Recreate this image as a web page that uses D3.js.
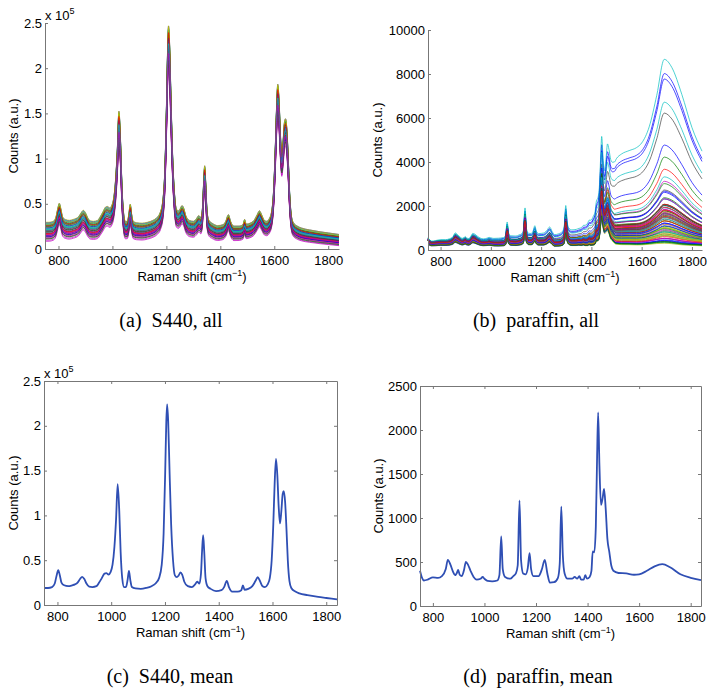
<!DOCTYPE html>
<html>
<head>
<meta charset="utf-8">
<script src="https://cdn.jsdelivr.net/npm/d3@7"></script>
<style>
  body { margin: 0; background: #fff; }
  svg { display: block; }
  .tick text { font-family: 'Liberation Sans', Arial, sans-serif; font-size: 13px; fill: #000; }
  .axis-title { font-family: 'Liberation Sans', Arial, sans-serif; font-size: 13px; fill: #000; }
  .caption { font-family: 'Liberation Serif', 'Times New Roman', serif; font-size: 20px; fill: #000; white-space: pre; }
</style>
</head>
<body>
<svg id="figure" width="714" height="690"></svg>
<script>
// ---- data ----
const shiftTicks = [800, 1000, 1200, 1400, 1600, 1800];
const s440Ticks = [0, 0.5, 1, 1.5, 2, 2.5];            // x 10^5
const paraffinAllTicks = [0, 2000, 4000, 6000, 8000, 10000];
const paraffinMeanTicks = [0, 500, 1000, 1500, 2000, 2500];

// S440 mean spectrum (counts x 10^5)
const s440Shift = [750, 765, 780, 790, 797, 803, 809, 815, 825, 840, 855, 865, 875, 884, 892, 900, 908, 918, 930, 945,
  955, 965, 975, 982, 990, 998, 1005, 1012, 1018, 1024, 1030, 1035, 1041, 1048, 1055, 1061, 1066, 1071, 1077, 1090,
  1110, 1130, 1150, 1165, 1178, 1188, 1195, 1201, 1205, 1208, 1212, 1217, 1223, 1230, 1237, 1244, 1251, 1258, 1264, 1272,
  1285, 1300, 1312, 1320, 1328, 1334, 1338, 1342, 1346, 1351, 1358, 1370, 1390, 1410, 1420, 1430, 1438, 1450, 1470, 1484,
  1490, 1496, 1510, 1525, 1537, 1545, 1553, 1563, 1572, 1582, 1590, 1597, 1603, 1608, 1613, 1618, 1623, 1628, 1633, 1638,
  1642, 1647, 1652, 1657, 1663, 1670, 1685, 1700, 1730, 1770, 1800, 1840];
const s440Mean = [0.19, 0.19, 0.2, 0.24, 0.33, 0.39, 0.33, 0.25, 0.22, 0.21, 0.22, 0.23, 0.25, 0.29, 0.315, 0.29, 0.24, 0.205, 0.2, 0.21,
  0.25, 0.3, 0.35, 0.355, 0.34, 0.37, 0.45, 0.65, 0.95, 1.35, 1.05, 0.6, 0.3, 0.2, 0.2, 0.28, 0.38, 0.28, 0.2, 0.185,
  0.18, 0.19, 0.21, 0.24, 0.3, 0.45, 0.8, 1.5, 2.05, 2.24, 2.05, 1.5, 0.9, 0.5, 0.33, 0.31, 0.33, 0.365, 0.34, 0.26,
  0.21, 0.2, 0.23, 0.26, 0.24, 0.35, 0.6, 0.78, 0.6, 0.3, 0.21, 0.18, 0.155, 0.165, 0.2, 0.27, 0.2, 0.15, 0.15, 0.165,
  0.22, 0.17, 0.18, 0.21, 0.27, 0.31, 0.27, 0.21, 0.2, 0.23, 0.3, 0.5, 0.9, 1.35, 1.63, 1.45, 1.1, 0.91, 1.05, 1.24,
  1.27, 1.15, 0.85, 0.5, 0.27, 0.19, 0.15, 0.13, 0.11, 0.09, 0.078, 0.062];

// S440 individual spectra: baseline offset at 750 and 1840 cm-1, peak scale
const s440BaseLeft = [0.09, -0.05, 0.02, 0.07, -0.08, 0.04, -0.02, 0.08, 0.0, -0.04, 0.06, 0.01, -0.06, 0.05, -0.01, 0.03, -0.03, 0.085, -0.065, 0.045,
  0.015, -0.045, 0.065, -0.015, 0.035, -0.055, 0.075, 0.005, -0.035, 0.055, -0.025, 0.025, -0.09, 0.095, -0.005, 0.04, -0.07, 0.06, 0.02, -0.03];
const s440BaseRight = [0.095, 0.005, 0.05, 0.08, -0.015, 0.06, 0.02, 0.09, 0.035, 0.01, 0.075, 0.04, 0.0, 0.065, 0.03, 0.055, 0.015, 0.085, -0.005, 0.06,
  0.045, 0.01, 0.075, 0.025, 0.055, 0.0, 0.085, 0.035, 0.015, 0.07, 0.02, 0.05, -0.02, 0.095, 0.03, 0.06, -0.01, 0.07, 0.045, 0.02];
const s440PeakScale = [1.06, 0.96, 1.0, 1.05, 0.93, 1.02, 0.98, 1.05, 0.99, 0.95, 1.04, 1.01, 0.94, 1.03, 0.97, 1.0, 0.96, 1.05, 0.94, 1.02,
  1.0, 0.95, 1.05, 0.98, 1.01, 0.94, 1.06, 0.99, 0.97, 1.03, 0.98, 1.01, 0.92, 1.06, 1.0, 1.02, 0.95, 1.04, 1.0, 0.97];

// paraffin mean spectrum (counts) and the broad background band seen in (b), normalised at 1690 cm-1
const paraffinShift = [750, 758, 765, 780, 800, 820, 835, 850, 858, 868, 878, 886, 893, 898, 904, 912, 920, 928, 936, 946,
  958, 970, 985, 993, 1000, 1012, 1030, 1050, 1058, 1065, 1071, 1080, 1100, 1112, 1122, 1129, 1136, 1142, 1150, 1160,
  1168, 1175, 1181, 1190, 1210, 1222, 1234, 1244, 1254, 1270, 1285, 1292, 1298, 1304, 1311, 1322, 1340, 1350, 1360, 1368,
  1375, 1385, 1391, 1398, 1408, 1415, 1420, 1426, 1432, 1437, 1441, 1446, 1452, 1458, 1464, 1470, 1477, 1484, 1492, 1500,
  1520, 1550, 1580, 1600, 1630, 1660, 1690, 1720, 1760, 1800, 1840];
const paraffinMean = [400, 320, 290, 300, 325, 320, 340, 420, 525, 470, 390, 350, 375, 410, 355, 340, 400, 500, 470, 400,
  330, 300, 310, 330, 310, 285, 280, 290, 350, 790, 420, 330, 310, 340, 370, 460, 1200, 520, 370, 360,
  430, 600, 420, 340, 340, 410, 525, 370, 265, 270, 320, 480, 1130, 580, 370, 310, 310, 330, 310, 340,
  300, 300, 350, 310, 330, 400, 620, 610, 900, 1700, 2200, 1600, 1150, 1220, 1330, 1120, 760, 620, 460, 400,
  375, 370, 355, 360, 400, 450, 475, 440, 360, 320, 295];
const paraffinHump = [0, 0, 0, 0.001, 0.002, 0.003, 0.004, 0.004, 0.005, 0.005, 0.005, 0.005, 0.005, 0.005, 0.006, 0.006, 0.007, 0.007, 0.008, 0.009,
  0.01, 0.011, 0.013, 0.014, 0.015, 0.016, 0.018, 0.02, 0.021, 0.021, 0.022, 0.023, 0.025, 0.026, 0.027, 0.028, 0.029, 0.029, 0.03, 0.031,
  0.032, 0.033, 0.033, 0.034, 0.037, 0.038, 0.039, 0.04, 0.041, 0.045, 0.05, 0.052, 0.055, 0.056, 0.058, 0.06, 0.063, 0.065, 0.072, 0.08,
  0.088, 0.1, 0.108, 0.115, 0.135, 0.15, 0.17, 0.19, 0.21, 0.235, 0.26, 0.255, 0.25, 0.3, 0.37, 0.375, 0.38, 0.39, 0.42, 0.45,
  0.48, 0.5, 0.52, 0.545, 0.63, 0.8, 1.0, 0.96, 0.82, 0.64, 0.51];

// paraffin individual spectra: band height at 1690 cm-1 and scale of the sharp spectrum
const paraffinHumpHeight = [7400, 3700, 3100, 8000, 2600, 900, 5700, 7200, 1500, 1300, 6100, 1800, 400, 2250, 4200, 2400, 1000, 2850, 700, 1200,
  300, 2050, 1950, 1100, 600, 1450, 200, 1650, 2150, 850, 1250, 1700, 500, 1050, 100, 1550, 350, 950, 1400, 150,
  750, 1150, 50, 1350, 800, 250, 1850, 550, 0, 650, 450, 1600, 0, 1200, 300, 900, 100, 700, 1050, 400,
  200, 0, 500, 150, 0, 1400, 1000, 1300, 600, 1100, 800, 1500, 250, 950, 1250, 350, 1150, 700, 50, 1450];
const paraffinScale = [1.3, 1.1, 1.2, 1.4, 1.1, 0.9, 1.1, 1.2, 1.2, 1.0, 1.3, 1.1, 0.8, 1.0, 1.2, 1.3, 1.0, 1.0, 1.0, 1.1,
  0.9, 1.2, 0.9, 0.9, 0.85, 1.0, 1.0, 0.9, 1.1, 1.0, 1.2, 1.3, 0.9, 1.1, 0.9, 1.0, 1.0, 1.2, 1.1, 0.8,
  0.9, 1.0, 0.75, 0.9, 1.1, 0.85, 1.0, 1.0, 0.8, 1.2, 1.1, 1.0, 0.7, 0.95, 0.75, 1.05, 0.7, 0.8, 0.95, 0.9,
  0.7, 0.65, 0.8, 0.65, 0.75, 0.9, 1.05, 1.15, 0.85, 1.0, 0.9, 1.1, 0.75, 1.0, 0.95, 0.8, 1.1, 0.85, 0.7, 1.05];

const matlabColors = ['#0000ff', '#008000', '#ff0000', '#00bfbf', '#bf00bf', '#bfbf00', '#404040'];
const meanColor = '#2f4fb4';
const axisColor = '#777';


class SpectrumPanel {

  constructor(_config, _series) {
    this.config = {
      parentElement: _config.parentElement,
      left: _config.left,
      right: _config.right,
      top: _config.top,
      bottom: _config.bottom,
      yMax: _config.yMax,
      yTicks: _config.yTicks,
      titleX: _config.titleX,
      boxed: _config.boxed || false,
      multiplier: _config.multiplier || false,
      colors: _config.colors,
      lineWidth: _config.lineWidth,
      caption: _config.caption,
      captionX: _config.captionX,
      captionY: _config.captionY
    }
    this.series = _series;
    this.initVis();
  }

  initVis() {
    let vis = this;
    let c = vis.config;

    vis.svg = d3.select(c.parentElement);
    vis.g = vis.svg.append('g');

    vis.xScale = d3.scaleLinear().domain([750, 1840]).range([c.left, c.right]);
    vis.yScale = d3.scaleLinear().domain([0, c.yMax]).range([c.bottom, c.top]);

    vis.xAxis = d3.axisBottom(vis.xScale).tickValues(shiftTicks)
        .tickSizeInner(-3).tickSizeOuter(0).tickPadding(7)
        .tickFormat(d => d);
    vis.yAxis = d3.axisLeft(vis.yScale).tickValues(c.yTicks)
        .tickSizeInner(-3).tickSizeOuter(0).tickPadding(3)
        .tickFormat(d => d);

    vis.line = d3.line()
        .x(d => vis.xScale(d.x))
        .y(d => vis.yScale(d.y))
        .curve(d3.curveMonotoneX);

    vis.renderVis();
  }

  styleAxis(sel) {
    sel.attr('font-family', null).attr('font-size', null);
    sel.select('.domain').attr('stroke', axisColor);
    sel.selectAll('.tick line').attr('stroke', axisColor);
  }

  renderVis() {
    let vis = this;
    let c = vis.config;

    vis.g.selectAll('.spectrum')
        .data(vis.series)
      .join('path')
        .attr('class', 'spectrum')
        .attr('d', vis.line)
        .attr('fill', 'none')
        .attr('stroke', (d, i) => c.colors[i % c.colors.length])
        .attr('stroke-width', c.lineWidth)
        .attr('stroke-linejoin', 'round');

    vis.g.append('g')
        .attr('transform', `translate(0,${c.bottom})`)
        .call(vis.xAxis)
        .call(s => vis.styleAxis(s));

    vis.g.append('g')
        .attr('transform', `translate(${c.left},0)`)
        .call(vis.yAxis)
        .call(s => vis.styleAxis(s));

    if (c.boxed) {
      vis.g.append('g')
          .attr('transform', `translate(0,${c.top})`)
          .call(d3.axisTop(vis.xScale).tickValues(shiftTicks).tickSizeInner(-3).tickSizeOuter(0).tickFormat(''))
          .call(s => vis.styleAxis(s));
      vis.g.append('g')
          .attr('transform', `translate(${c.right},0)`)
          .call(d3.axisRight(vis.yScale).tickValues(c.yTicks).tickSizeInner(-3).tickSizeOuter(0).tickFormat(''))
          .call(s => vis.styleAxis(s));
    }

    // axis titles
    let xt = vis.g.append('text')
        .attr('class', 'axis-title')
        .attr('x', (c.left + c.right) / 2)
        .attr('y', c.bottom + 32)
        .attr('text-anchor', 'middle');
    xt.append('tspan').text('Raman shift (cm');
    xt.append('tspan').attr('dy', -5).attr('font-size', 9).text('\u22121');
    xt.append('tspan').attr('dy', 5).text(')');

    vis.g.append('text')
        .attr('class', 'axis-title')
        .attr('transform', `translate(${c.titleX},${(c.top + c.bottom) / 2}) rotate(-90)`)
        .attr('text-anchor', 'middle')
        .attr('dy', '0.35em')
        .text('Counts (a.u.)');

    if (c.multiplier) {
      let m = vis.g.append('text')
          .attr('class', 'axis-title')
          .attr('x', c.left)
          .attr('y', c.top - 3)
          .attr('font-size', 12);
      m.append('tspan').text('x 10');
      m.append('tspan').attr('dy', -6).attr('font-size', 9).text('5');
    }

    vis.g.append('text')
        .attr('class', 'caption')
        .attr('x', c.captionX)
        .attr('y', c.captionY)
        .attr('text-anchor', 'middle')
        .text(c.caption);
  }
}


// ---- build the series ----
const s440All = s440BaseLeft.map((bl, i) => {
  let baseline = d3.scaleLinear().domain([750, 1840]).range([bl, s440BaseRight[i]]);
  return s440Shift.map((x, k) => ({x: x, y: s440PeakScale[i] * s440Mean[k] + baseline(x)}));
});
const s440MeanSeries = [s440Shift.map((x, k) => ({x: x, y: s440Mean[k]}))];

const paraffinAll = paraffinHumpHeight.map((h, i) =>
  paraffinShift.map((x, k) => ({x: x, y: paraffinScale[i] * paraffinMean[k] + h * paraffinHump[k]})));
const paraffinMeanSeries = [paraffinShift.map((x, k) => ({x: x, y: paraffinMean[k]}))];

new SpectrumPanel({
  parentElement: '#figure', left: 45, right: 339, top: 23, bottom: 249, titleX: 13,
  yMax: 2.5, yTicks: s440Ticks, multiplier: true,
  colors: matlabColors, lineWidth: 0.7,
  caption: '(a)  S440, all', captionX: 171, captionY: 327
}, s440All);

new SpectrumPanel({
  parentElement: '#figure', left: 428, right: 702, top: 30, bottom: 250, titleX: 377,
  yMax: 10000, yTicks: paraffinAllTicks,
  colors: matlabColors, lineWidth: 0.7,
  caption: '(b)  paraffin, all', captionX: 536, captionY: 327
}, paraffinAll);

new SpectrumPanel({
  parentElement: '#figure', left: 44, right: 337, top: 381, bottom: 605, titleX: 13,
  yMax: 2.5, yTicks: s440Ticks, multiplier: true, boxed: true,
  colors: [meanColor], lineWidth: 1.8,
  caption: '(c)  S440, mean', captionX: 170, captionY: 683
}, s440MeanSeries);

new SpectrumPanel({
  parentElement: '#figure', left: 420, right: 701, top: 386, bottom: 606, titleX: 378,
  yMax: 2500, yTicks: paraffinMeanTicks, boxed: true,
  colors: [meanColor], lineWidth: 1.8,
  caption: '(d)  paraffin, mean', captionX: 538, captionY: 683
}, paraffinMeanSeries);
</script>
</body>
</html>
